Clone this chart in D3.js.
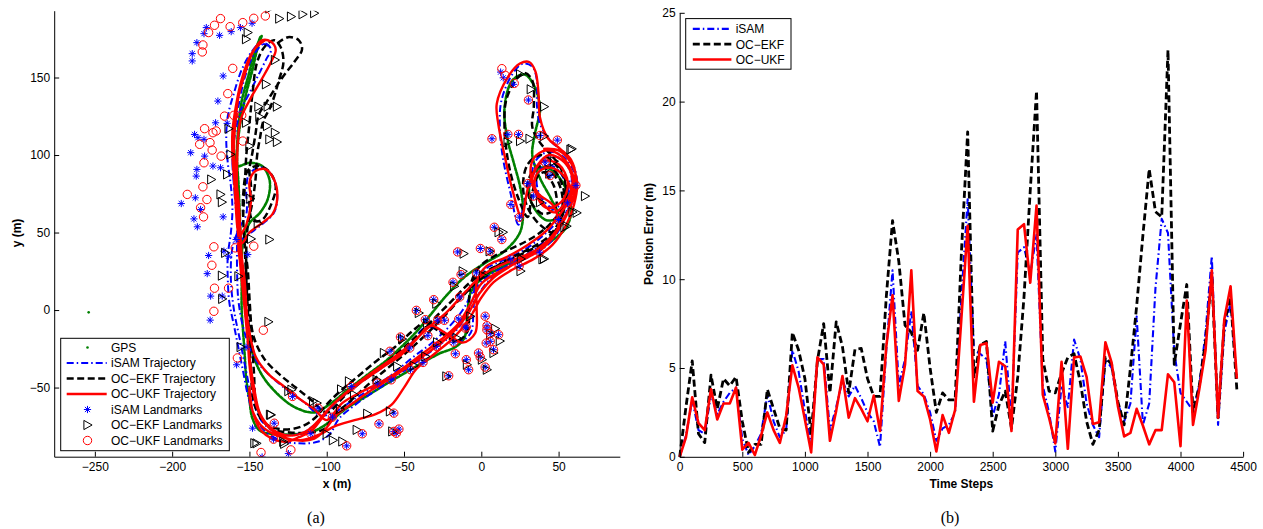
<!DOCTYPE html>
<html><head><meta charset="utf-8">
<script src="https://cdn.jsdelivr.net/npm/d3@7"></script>
<style>
body{margin:0;background:#fff}
svg{display:block}
</style>
</head><body>
<svg id="c" width="1263" height="529"></svg>
<script>
// ================= DATA (a): trajectories in metres =================
const gpsOutlier = [[-254,-1.5]];
const gpsTraj = [[-143,176],[-147,165],[-151,150],[-155,135],[-157,120],[-158,105],[-158,93],[-150,95],[-142,93],[-137,84],[-138,72],[-143,63],[-150,56],[-154,45],[-155,30],[-155,15],[-155,0],[-154,-15],[-153,-30],[-152,-45],[-150,-58],[-148,-70],[-143,-78],[-133,-80],[-120,-80],[-108,-78],[-98,-72],[-88,-64],[-75,-56],[-62,-48],[-50,-41],[-38,-34],[-27,-28],[-17,-24],[-11,-18],[-9,-2],[-7,11],[0,20],[10,26],[22,32],[35,38],[46,45],[54,52],[58,62],[56,75],[50,86],[42,92],[35,90],[31,80],[33,68],[42,58],[50,60],[45,72],[38,85],[33,100],[35,115],[38,130],[34,145],[28,152],[20,148],[15,130],[17,110],[21,95],[25,80],[27,65],[25,50],[15,38],[2,30],[-10,22],[-22,10],[-32,-2],[-42,-14],[-52,-24],[-62,-33],[-74,-42],[-86,-51],[-97,-60],[-108,-66],[-120,-63],[-132,-54],[-143,-40],[-150,-20],[-153,5],[-155,30],[-156,55],[-157,80],[-158,100],[-156,120],[-152,140],[-148,155],[-145,168],[-142,177]];

const isamTraj = [[-137,170],[-143,172],[-149,166],[-155,155],[-160,140],[-164,125],[-165,110],[-164,95],[-162,80],[-161,65],[-162,50],[-164,35],[-164,20],[-163,5],[-160,-10],[-157,-25],[-154,-40],[-151,-55],[-147,-68],[-140,-78],[-130,-84],[-118,-86],[-106,-85],[-98,-80],[-92,-70],[-80,-60],[-67,-51],[-54,-42],[-41,-33],[-29,-24],[-17,-14],[-8,-1],[0,13],[9,23],[21,31],[34,39],[46,49],[55,62],[61,76],[60,89],[53,99],[43,102],[35,96],[33,84],[39,72],[49,64],[57,75],[58,88],[51,98],[41,98],[34,88],[28,70],[24,55],[19,75],[14,98],[12,118],[13,135],[20,152],[27,159],[33,157],[36,148],[36,132],[38,120],[45,109],[54,101],[60,92],[62,80],[58,68],[50,58],[40,48],[28,39],[14,32],[2,26],[-4,16],[-5,0],[-7,-15],[-14,-20],[-26,-14],[-36,-11],[-45,-21],[-56,-31],[-68,-40],[-80,-48],[-92,-58],[-101,-67],[-109,-75],[-118,-80],[-130,-80],[-141,-73],[-148,-58],[-152,-40],[-156,-20],[-160,0],[-162,20],[-161,40],[-157,52],[-152,62],[-152,78],[-150,88],[-142,92],[-135,86],[-132,74],[-134,63],[-141,56],[-149,50],[-155,46],[-158,60],[-160,80],[-161,100],[-159,115],[-156,128],[-151,138],[-145,150],[-139,162],[-136,168],[-140,172],[-147,165],[-153,150],[-157,132],[-160,115],[-161,98],[-160,80],[-158,62],[-158,45],[-158,25],[-157,5],[-153,-15],[-146,-32],[-136,-43],[-125,-52],[-114,-60],[-104,-68],[-95,-66],[-83,-58],[-70,-50],[-57,-41],[-45,-31],[-33,-22],[-22,-12],[-12,0],[-4,14],[6,23],[18,29],[32,35],[44,43],[52,55],[56,68],[55,80],[50,90],[42,94],[36,86],[38,74],[46,66],[54,70],[57,84]];

const ekfTraj = [[-132,172],[-125,176],[-118,174],[-116,168],[-121,160],[-128,151],[-134,142],[-139,134],[-144,126],[-146,114],[-148,102],[-150,90],[-149,80],[-150,68],[-148,58],[-142,58],[-136,68],[-133,80],[-137,89],[-144,93],[-151,90],[-154,75],[-154,58],[-153,42],[-151,25],[-150,8],[-149,-8],[-148,-25],[-147,-42],[-146,-58],[-142,-70],[-135,-77],[-124,-79],[-112,-79],[-102,-77],[-95,-68],[-84,-58],[-72,-47],[-60,-37],[-48,-27],[-36,-16],[-24,-4],[-13,8],[-3,18],[8,27],[20,34],[32,40],[43,47],[51,58],[55,72],[53,86],[46,96],[38,100],[30,94],[27,80],[30,66],[38,55],[47,50],[52,62],[52,76],[46,88],[38,88],[33,76],[30,60],[24,72],[19,88],[16,105],[15,120],[16,135],[22,148],[28,153],[33,148],[34,132],[33,118],[38,108],[47,98],[53,88],[55,76],[51,64],[43,54],[32,46],[20,40],[7,34],[-2,27],[-7,16],[-8,0],[-9,-14],[-16,-20],[-27,-14],[-36,-8],[-45,-14],[-56,-24],[-68,-33],[-80,-43],[-92,-53],[-101,-62],[-108,-70],[-116,-75],[-128,-77],[-140,-73],[-147,-60],[-149,-40],[-150,-20],[-151,0],[-152,20],[-152,40],[-151,55],[-148,70],[-146,85],[-145,100],[-143,112],[-141,122],[-136,132],[-131,148],[-128,160],[-130,170],[-134,174],[-140,170],[-145,160],[-148,140],[-150,120],[-152,100],[-153,80],[-154,60],[-153,40],[-152,20],[-150,0],[-147,-18],[-140,-32],[-130,-42],[-120,-50],[-110,-58],[-100,-66],[-88,-55],[-76,-45],[-64,-36],[-52,-26],[-40,-15],[-29,-4],[-18,7],[-7,18],[5,26],[18,32],[30,38],[42,44],[50,55],[54,68],[52,82],[45,92],[36,92],[30,82],[32,70],[40,62],[48,66],[47,80],[40,90]];

const ukfTraj = [[-140,174],[-147,168],[-152,158],[-156,145],[-159,130],[-161,115],[-161,100],[-160,85],[-159,70],[-158,55],[-156,40],[-154,25],[-153,10],[-152,-5],[-151,-20],[-150,-35],[-148,-50],[-145,-63],[-140,-73],[-132,-80],[-120,-84],[-108,-83],[-101,-77],[-94,-68],[-83,-60],[-70,-51],[-57,-43],[-44,-34],[-31,-25],[-19,-15],[-9,-3],[-1,11],[8,21],[20,29],[33,37],[45,47],[54,60],[60,74],[59,88],[52,99],[42,103],[34,98],[32,86],[37,73],[47,63],[56,72],[59,84],[54,95],[44,100],[36,93],[30,78],[26,60],[20,78],[15,100],[11,120],[10,133],[17,150],[25,159],[31,160],[35,154],[37,140],[38,124],[43,111],[51,104],[58,97],[61,86],[58,73],[51,62],[42,51],[30,42],[16,34],[3,28],[-3,18],[-3,2],[-4,-15],[-12,-21],[-23,-15],[-33,-10],[-42,-19],[-52,-29],[-64,-37],[-77,-46],[-89,-55],[-99,-64],[-106,-72],[-113,-78],[-124,-81],[-135,-77],[-143,-67],[-147,-50],[-150,-30],[-152,-10],[-154,10],[-156,30],[-157,45],[-152,55],[-149,70],[-150,82],[-147,89],[-140,91],[-134,84],[-132,72],[-135,62],[-142,56],[-150,50],[-155,43],[-157,55],[-158,75],[-158,95],[-157,115],[-155,125],[-149,137],[-142,149],[-136,160],[-133,168],[-136,173],[-142,174],[-148,166],[-153,152],[-157,138],[-159,122],[-160,105],[-159,88],[-157,70],[-156,52],[-155,35],[-153,18],[-152,2],[-151,-8],[-146,-30],[-138,-41],[-128,-49],[-118,-57],[-108,-64],[-100,-71],[-90,-60],[-78,-53],[-64,-46],[-50,-37],[-38,-28],[-26,-19],[-15,-9],[-7,4],[0,17],[12,25],[26,32],[40,40],[50,52],[57,66],[58,78],[52,88],[44,92],[36,88],[35,76],[42,66],[52,70],[56,82],[50,94],[40,96],[33,85],[37,75],[46,68],[50,55],[44,44],[30,36],[15,30],[0,22],[-10,12],[-22,-1],[-35,-12],[-48,-24],[-60,-33],[-73,-42],[-86,-52],[-97,-62],[-104,-71],[-110,-78],[-118,-82],[-126,-85],[-135,-83],[-143,-77],[-148,-65],[-150,-50],[-149,-62],[-143,-74],[-132,-81],[-117,-84],[-104,-80],[-95,-75],[-82,-71],[-68,-67],[-58,-61],[-50,-50],[-42,-38],[-30,-28],[-18,-18],[-8,-6],[0,8],[8,18],[20,26],[34,33],[46,42],[55,55],[60,68],[62,82],[58,95],[50,103],[40,104]];

// ================= DATA (a): landmarks =================
const isamLandmarks = [[-177.9,182.2],[-179.4,178.3],[-184,172.5],[-187,165.4],[-187,160.7],[-169.3,177.2],[-161.8,179.6],[-155.8,182.2],[-148.3,185],[-167,151],[-170.4,134.8],[-171.9,120.8],[-164.4,120.4],[-185.5,113.3],[-183.3,111.2],[-179.4,110.1],[-188,101.5],[-179,99.3],[-173.6,92.9],[-168.7,91.8],[-184,90.7],[-184.4,86.4],[-194.1,68.7],[-185,72.4],[-181.6,64.9],[-185.9,58.8],[-183.7,53.7],[-167,60.1],[-158.6,45.5],[-163.5,34.7],[-151.1,35.8],[-176.4,35.2],[-177.3,23.5],[-175.1,9],[-167.6,9],[-166.5,38],[-175.4,-6.5],[-152.1,-23.9],[-158.3,-35.3],[-148,-76.2],[-141.8,-94.8],[-124.8,-92.6],
[-134,-73],[-134.4,-83.3],[-122.1,-55.7],[-110.3,-79.8],[-105.6,-63.3],[-96.3,-69.1],[-87.1,-87.6],[-84.1,-49.3],[-77,-79.8],[-66.2,-73.4],[-67.3,-47.1],[-56.6,-66.5],[-58.3,-45],[-59.1,-26.6],[-46.3,-24.5],[-37.7,-33.8],[-45.8,-38.5],[-34.6,-16.5],[-28.2,-6.6],[-29.1,-23.4],[-16.8,-28.2],[-52.3,-17.4],[-42,-0.2],[-36.2,-6.2],[-30.8,6.7],[-18.3,17.9],[-10.4,-11.6],[-21.1,-42.4],[-9.7,-32],[-8.2,-38.5],[-1.8,-27.7],[2.5,-4],[3.6,-12.7],[5.8,-20.2],[2.5,-36.8],[-0.7,-30.3],[7.9,-25.6],[-56.6,-78.3],[-53.3,-76.8],[-55,-79.5],
[12.5,153.5],[14.2,149.8],[20.8,145.6],[30.5,135.5],[6.9,110.5],[17.2,113.3],[24.1,113.3],[38,112.6],[49.2,109.6],[41.3,95.4],[44.5,86.8],[30.1,81.6],[33.7,73.5],[61.2,80.4],[55.7,69.2],[19.1,68.1],[24.7,59.9],[49.9,58.4],[8.4,53.4],[13.3,45.5],[-15.3,37.5],[-0.6,39.7],[5.8,37.9],[19.1,33],[24.5,28.3],[37.6,37.3],[-13.1,22.9],[-3.2,24],[-14,8.4],[-23.9,-6.6],[-14.6,-5.8],[-9.7,-10.9],[3.7,-10.1],[5.8,-15.2],[11.2,-15.9],[-17.8,-20.8],[3.2,-21.3]];

const ekfLandmarks = [[-137.1,194.5],[-130.7,188],[-123.1,189.3],[-115.6,190.8],[-108.1,191.5],[-151.1,179],[-152.2,174.7],[-133.5,161.3],[-139.3,145.6],[-144.2,131.2],[-138.2,131.2],[-132.2,131.2],[-143.6,124.7],[-152.2,120.8],[-138.6,118.7],[-133.5,114.4],[-137.1,110.1],[-132.2,108.4],[-163.5,117],[-150,105.8],[-162.3,100.4],[-174.7,84.2],[-164.4,87.5],[-168.7,74.6],[-167.8,69.6],[-149.4,71.8],[-144.6,55.8],[-137.1,45.5],[-149,45.9],[-165.7,36.9],[-167.8,22.2],[-157.1,21.8],[-167.6,7.2],[-137.7,-7.6],[-155.7,-23.9],[-145.4,-86],[-124.8,-52.3],[-136.7,-67.5],[-128.1,-85],[-108.8,-58.8],[-90.7,-51.2],
[-122.8,-51.4],[-85.6,-46],[-82.3,-54.6],[-91.4,-63.9],[-73.8,-66.9],[-89.9,-84.8],[-80.6,-77.3],[-106.4,-60],[-136.1,-67.6],[-146.8,-85.9],[-127.5,-86.3],[-67.7,-45],[-59.1,-65.4],[-57.6,-78.3],[-54.4,-36.3],[-43.7,-35.9],[-36.2,-29.9],[-28.6,-20.8],[-22.6,-42.8],[-9.3,-35.3],[0.4,-32],[7.9,-27.7],[3.6,-38.5],[-7.1,-4.1],[5.8,-15.9],[-63,-27.7],[-51.2,-18.7],[-40.4,-1.9],[-35.1,-8.4],[-29.1,4.1],[-17.5,15.3],[-100,-80],[-96,-84],[-16,-18],[9,-12],[12,-20],
[25.1,152.1],[32,142.4],[40.6,131.2],[17,108.3],[25.1,109],[31.2,110.5],[40.6,112.2],[58.5,104],[67.1,73.5],[61.7,62.7],[55.2,54.1],[38,69.6],[14,50.2],[25.6,33],[40.6,33],[1.1,22.2],[-11.4,36.4],[5.4,37.9],[11.2,50.2],[57.7,103.5],[59,63.2],[53.8,53.4],[39.6,32.7],[25.4,25.1],[-12,25],[44,88],[47,96]];

const ukfLandmarks = [[-168.7,188],[-172.6,183.7],[-176.4,179],[-180.1,171],[-180.5,166.5],[-162.5,182.8],[-154.3,185.4],[-147.2,188.2],[-139.7,189.7],[-160.8,155.9],[-164,139.6],[-166.1,125.1],[-160.1,125.6],[-155,125.6],[-179,117],[-173.6,114.4],[-171.5,115.5],[-175.5,108],[-182.2,106.9],[-174.1,103.2],[-168.3,99.3],[-154.3,109],[-179.4,95],[-180.1,79.5],[-190.2,74.6],[-177.5,71.3],[-181.6,66],[-179.7,60.1],[-173,40.8],[-174.3,28.9],[-159.2,40.1],[-147.2,41.2],[-172.6,14.1],[-163.5,14.1],[-173,-0.8],[-141,-13],[-157.8,-30.9],
[-133.9,-73],[-142.5,-91.9],[-123.2,-90.2],[-134.4,-83.3],[-122.1,-55.7],[-110.3,-79.8],[-105.6,-63.3],[-96.3,-69.1],[-87.1,-87.6],[-84.1,-49.3],[-77,-79.8],[-66.2,-73.4],[-67.3,-47.1],[-56.6,-66.5],[-58.3,-45],[-59.1,-26.6],[-46.3,-24.5],[-37.7,-33.8],[-45.8,-38.5],[-34.6,-16.5],[-28.2,-6.6],[-29.1,-23.4],[-16.8,-28.2],[-52.3,-17.4],[-42,-0.2],[-36.2,-6.2],[-30.8,6.7],[-18.3,17.9],[-10.4,-11.6],[-21.1,-42.4],[-9.7,-32],[-8.2,-38.5],[-1.8,-27.7],[2.5,-4],[3.6,-12.7],[5.8,-20.2],[2.5,-36.8],[-0.7,-30.3],[7.9,-25.6],[-56.6,-78.3],[-53.3,-76.8],[-55,-79.5],
[13.3,155.7],[15.5,151.4],[21.3,146.2],[30.5,135.5],[6.9,110.5],[17.2,113.3],[24.1,113.3],[38,112.6],[49.2,109.6],[41.3,95.4],[44.5,86.8],[30.1,81.6],[33.7,73.5],[61.2,80.4],[55.7,69.2],[19.1,68.1],[24.7,59.9],[49.9,58.4],[8.4,53.4],[13.3,45.5],[-15.3,37.5],[-0.6,39.7],[5.8,37.9],[19.1,33],[24.5,28.3],[37.6,37.3],[-13.1,22.9],[-3.2,24],[-14,8.4],[-23.9,-6.6],[-14.6,-5.8],[-9.7,-10.9],[3.7,-10.1],[5.8,-15.2],[11.2,-15.9],[-17.8,-20.8],[3.2,-21.3]];

const xTicksA = [-250,-200,-150,-100,-50,0,50];
const yTicksA = [-50,0,50,100,150];
const legendA = ["GPS","iSAM Trajectory","OC\u2212EKF Trajectory","OC\u2212UKF Trajectory","iSAM Landmarks","OC\u2212EKF Landmarks","OC\u2212UKF Landmarks"];

// ================= DATA (b): position error =================
const timeSteps = [0,50,100,150,200,250,300,350,400,450,500,550,600,650,700,750,800,850,900,950,1000,1050,1100,1150,1200,1250,1300,1350,1400,1450,1500,1550,1600,1650,1700,1750,1800,1850,1900,1950,2000,2050,2100,2150,2200,2250,2300,2350,2400,2450,2500,2550,2600,2650,2700,2750,2800,2850,2900,2950,3000,3050,3100,3150,3200,3250,3300,3350,3400,3450,3500,3550,3600,3650,3700,3750,3800,3850,3900,3950,4000,4050,4100,4150,4200,4250,4300,4350,4400,4450];
const isamErr = [0,1.2,3.2,1.5,1.3,3.5,2.4,3.1,3.6,3.9,1.0,0.1,0.6,1.3,3.5,2.0,1.1,1.5,6.0,4.8,2.6,0.7,5.5,5.5,1.5,2.8,4.3,3.4,4.0,3.3,2.5,2.0,0.55,6.0,10.5,4.0,5.5,8.2,4.0,3.5,2.5,0.9,1.6,1.8,2.5,9.0,14.5,6.0,5.8,5.5,2.3,3.5,6.5,2.0,11.5,11.8,10.3,12.5,4.0,2.5,0.3,4.0,2.8,6.6,5.5,3.0,1.8,1.1,5.5,5.0,3.0,2.0,3.0,7.9,1.8,3.0,9.5,13.4,12.6,5.9,3.6,3.1,2.6,4.0,7.0,11.3,1.8,7.0,8.7,4.4];
const ekfErr = [0,2.8,5.4,1.3,0.8,4.6,2.7,4.4,4.0,4.5,2.0,0.25,0.7,0.7,3.8,2.7,1.6,1.5,7.0,6.0,4.4,1.3,5.4,7.5,3.6,7.6,6.2,3.6,6.05,6.1,4.4,3.4,3.4,9.0,13.3,11.0,7.4,7.0,6.0,8.1,5.0,2.5,3.6,3.2,3.2,11.5,18.3,4.5,6.3,6.5,1.45,2.9,3.7,1.6,4.5,9.0,15.0,20.6,5.5,3.7,3.6,4.7,5.6,5.8,4.2,2.0,0.7,1.5,5.6,5.2,3.1,1.8,5.0,8.5,12.5,16.2,13.8,13.5,22.9,5.2,7.5,9.7,2.5,4.0,6.5,10.2,2.2,7.5,9.0,3.8];
const ukfErr = [0,1.1,3.35,1.9,1.5,3.8,2.1,3.0,3.0,3.9,0.4,0.78,0.1,1.2,2.5,1.5,0.78,2.3,5.15,3.9,2.1,0.25,5.6,5.2,0.9,2.6,4.55,2.2,3.3,2.7,2.0,3.45,1.45,6.2,9.1,3.15,5.2,10.5,3.7,3.4,2.1,0.3,2.35,1.35,2.65,7.8,13.0,3.1,6.3,6.4,3.05,5.35,5.1,1.45,12.8,13.1,9.8,14.15,3.5,2.2,0.75,5.35,0.45,5.6,5.65,4.5,1.85,1.95,6.45,5.3,2.85,1.15,1.35,2.7,1.75,0.7,1.5,1.5,4.65,4.2,0.6,8.8,1.8,3.8,6.0,10.5,2.2,7.75,9.6,4.4];
const xTicksB = [0,500,1000,1500,2000,2500,3000,3500,4000,4500];
const yTicksB = [0,5,10,15,20,25];
const legendB = ["iSAM","OC\u2212EKF","OC\u2212UKF"];

// ================= STYLES =================
const BLUE="#0000ff", RED="#ff0000", GREEN="#008000", BLACK="#000000";
const SANS = "'Liberation Sans', Arial, Helvetica, sans-serif";
const SERIF = "'Liberation Serif', 'Times New Roman', serif";
const styleBlueA = {stroke:BLUE, w:2, dash:"7,3,1.5,3"};
const styleBlackA = {stroke:BLACK, w:2.5, dash:"7,3.5"};
const styleRedA = {stroke:RED, w:2.4, dash:null};
const styleGreenA = {stroke:GREEN, w:2.6, dash:"3,1.6"};
const styleBlueB = {stroke:BLUE, w:2.1, dash:"7,3,1.5,3"};
const styleBlackB = {stroke:BLACK, w:2.8, dash:"7,3.5"};
const styleRedB = {stroke:RED, w:2.6, dash:null};

const svg = d3.select("#c");

function styleAxis(g){
  g.attr("font-size",12).attr("font-family",SANS);
  g.selectAll("path.domain").attr("stroke","#000").attr("stroke-width",1);
  g.selectAll(".tick line").attr("stroke","#000").attr("stroke-width",1);
  g.selectAll(".tick text").attr("fill","#000");
}
function starPath(r){ const a=r*0.72; return `M${-r},0L${r},0M0,${-r}L0,${r}M${-a},${-a}L${a},${a}M${-a},${a}L${a},${-a}`; }
const triPath = "M-3.6,-4.6L4.6,0L-3.6,4.6Z";
function applyLine(sel, s){
  sel.attr("fill","none").attr("stroke",s.stroke).attr("stroke-width",s.w).attr("stroke-linejoin","round");
  if(s.dash) sel.attr("stroke-dasharray",s.dash);
  return sel;
}
function label(x,y,txt,opts){
  const t = svg.append("text").attr("x",x).attr("y",y).attr("text-anchor","middle")
    .style("font-family",opts.serif?SERIF:SANS).style("font-size",(opts.size||12)+"px")
    .style("font-weight",opts.bold?"bold":"normal").text(txt);
  if(opts.rotate) t.attr("transform",`rotate(-90,${x},${y})`);
  return t;
}

// ================= CHART (a) =================
const A = {x0:54.2, x1:619.8, y0:456.7, y1:10.7};
const lx = d3.scaleLinear().domain([-276.3,89.6]).range([A.x0,A.x1]);
const ly = d3.scaleLinear().domain([-94.6,193.1]).range([A.y0,A.y1]);

svg.append("clipPath").attr("id","clipA").append("rect")
  .attr("x",A.x0).attr("y",A.y1).attr("width",A.x1-A.x0).attr("height",A.y0-A.y1);
const gA = svg.append("g").attr("clip-path","url(#clipA)");
const lineA = d3.line().x(d=>lx(d[0])).y(d=>ly(d[1])).curve(d3.curveCatmullRom.alpha(0.5));

applyLine(gA.append("path").datum(gpsTraj).attr("d",lineA), styleGreenA).attr("stroke-linecap","round");
gA.selectAll("circle.gps").data(gpsOutlier).join("circle").attr("class","gps")
  .attr("cx",d=>lx(d[0])).attr("cy",d=>ly(d[1])).attr("r",1.3).attr("fill",GREEN);
applyLine(gA.append("path").datum(isamTraj).attr("d",lineA), styleBlueA);
applyLine(gA.append("path").datum(ekfTraj).attr("d",lineA), styleBlackA);
applyLine(gA.append("path").datum(ukfTraj).attr("d",lineA), styleRedA);

gA.selectAll("path.star").data(isamLandmarks).join("path").attr("class","star")
  .attr("d",starPath(3.6)).attr("transform",d=>`translate(${lx(d[0])},${ly(d[1])})`)
  .attr("stroke",BLUE).attr("stroke-width",1).attr("fill","none");
gA.selectAll("path.tri").data(ekfLandmarks).join("path").attr("class","tri")
  .attr("d",triPath).attr("transform",d=>`translate(${lx(d[0])},${ly(d[1])})`)
  .attr("stroke",BLACK).attr("stroke-width",1).attr("fill","none");
gA.selectAll("circle.lm").data(ukfLandmarks).join("circle").attr("class","lm")
  .attr("cx",d=>lx(d[0])).attr("cy",d=>ly(d[1])).attr("r",4.2)
  .attr("stroke",RED).attr("stroke-width",1).attr("fill","none");

const axAx = svg.append("g").attr("transform",`translate(0,${A.y0})`)
  .call(d3.axisBottom(lx).tickValues(xTicksA).tickFormat(d3.format("d")).tickSizeInner(-5).tickSizeOuter(0).tickPadding(6));
styleAxis(axAx);
const axAy = svg.append("g").attr("transform",`translate(${A.x0},0)`)
  .call(d3.axisLeft(ly).tickValues(yTicksA).tickFormat(d3.format("d")).tickSizeInner(-5).tickSizeOuter(0).tickPadding(4));
styleAxis(axAy);

label((A.x0+A.x1)/2, 488, "x (m)", {bold:true});
label(21, 233, "y (m)", {bold:true, rotate:true});
label(316, 523, "(a)", {serif:true, size:16});

// legend (a)
const legA = svg.append("g");
legA.append("rect").attr("x",60.7).attr("y",338.3).attr("width",168.6).attr("height",112.4)
  .attr("fill","#fff").attr("stroke","#000").attr("stroke-width",1);
const legAy = i => 347.5 + i*15.5;
legA.append("circle").attr("cx",87.5).attr("cy",legAy(0)).attr("r",1.3).attr("fill",GREEN);
[styleBlueA,styleBlackA,styleRedA].forEach((s,k)=>{
  applyLine(legA.append("line").attr("x1",66.7).attr("x2",106.7).attr("y1",legAy(k+1)).attr("y2",legAy(k+1)), s);
});
legA.append("path").attr("d",starPath(3.6)).attr("transform",`translate(87.5,${legAy(4)})`).attr("stroke",BLUE).attr("fill","none");
legA.append("path").attr("d",triPath).attr("transform",`translate(87.5,${legAy(5)})`).attr("stroke",BLACK).attr("fill","none");
legA.append("circle").attr("cx",87.5).attr("cy",legAy(6)).attr("r",4.2).attr("stroke",RED).attr("fill","none");
legA.selectAll("text").data(legendA).join("text").attr("x",111).attr("y",(d,i)=>legAy(i)+4.3)
  .style("font-family",SANS).style("font-size","12px").text(d=>d);

// ================= CHART (b) =================
const B = {x0:679.7, x1:1243.1, y0:456.8, y1:12.8};
const rx = d3.scaleLinear().domain([0,4500]).range([B.x0,B.x1]);
const ry = d3.scaleLinear().domain([0,25]).range([B.y0,B.y1]);
const gB = svg.append("g");
const lineB = (vals)=> d3.line().x((d,i)=>rx(timeSteps[i])).y(d=>ry(d))(vals);

applyLine(gB.append("path").attr("d",lineB(isamErr)), styleBlueB);
applyLine(gB.append("path").attr("d",lineB(ekfErr)), styleBlackB);
applyLine(gB.append("path").attr("d",lineB(ukfErr)), styleRedB);

const axBx = svg.append("g").attr("transform",`translate(0,${B.y0})`)
  .call(d3.axisBottom(rx).tickValues(xTicksB).tickFormat(d3.format("d")).tickSizeInner(-5).tickSizeOuter(0).tickPadding(6));
styleAxis(axBx);
const axBy = svg.append("g").attr("transform",`translate(${B.x0},0)`)
  .call(d3.axisLeft(ry).tickValues(yTicksB).tickFormat(d3.format("d")).tickSizeInner(-5).tickSizeOuter(0).tickPadding(4));
styleAxis(axBy);

label((B.x0+B.x1)/2, 488, "Time Steps", {bold:true});
label(653, 234, "Position Error (m)", {bold:true, rotate:true});
label(950, 523, "(b)", {serif:true, size:16});

// legend (b)
const legB = svg.append("g");
legB.append("rect").attr("x",685.7).attr("y",18.6).attr("width",105.3).attr("height",50.6)
  .attr("fill","#fff").attr("stroke","#000").attr("stroke-width",1);
const legBy = i => 28.9 + i*15.3;
[styleBlueB,styleBlackB,styleRedB].forEach((s,k)=>{
  applyLine(legB.append("line").attr("x1",692.8).attr("x2",731.4).attr("y1",legBy(k)).attr("y2",legBy(k)), s);
});
legB.selectAll("text").data(legendB).join("text").attr("x",735.7).attr("y",(d,i)=>legBy(i)+4.3)
  .style("font-family",SANS).style("font-size","12px").text(d=>d);
</script>
</body></html>
